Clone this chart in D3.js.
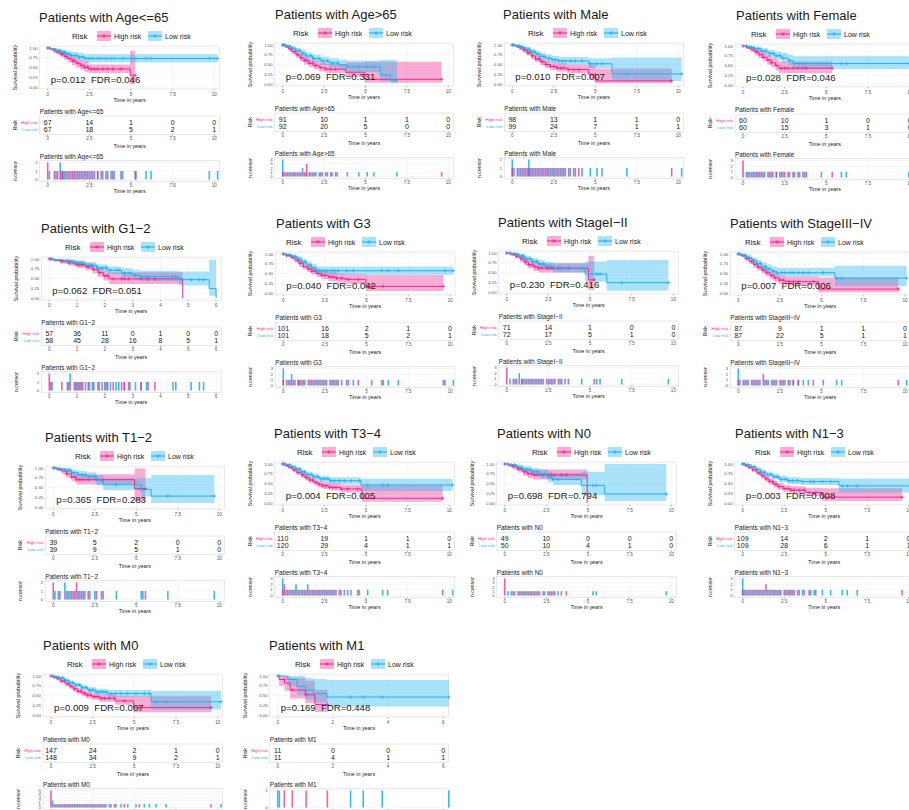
<!DOCTYPE html>
<html>
<head>
<meta charset="utf-8">
<script src="https://cdn.jsdelivr.net/npm/d3@7"></script>
<style>
  body { margin: 0; background: #fff; }
  svg { display: block; font-family: "Liberation Sans", Arial, Helvetica, sans-serif; }
</style>
</head>
<body>
<svg id="chart" width="909" height="810"></svg>
<script>
// ---- subgroup survival data (high vs low risk) ----
const groups = ["Age<=65", "Age>65", "Male", "Female", "G1\u22122", "G3", "StageI\u2212II", "StageIII\u2212IV",
                "T1\u22122", "T3\u22124", "N0", "N1\u22123", "M0", "M1"];
const pValues   = ["0.012", "0.069", "0.010", "0.028", "0.062", "0.040", "0.230", "0.007", "0.365", "0.004", "0.698", "0.003", "0.009", "0.169"];
const fdrValues = ["0.046", "0.331", "0.007", "0.046", "0.051", "0.042", "0.416", "0.006", "0.283", "0.005", "0.794", "0.008", "0.007", "0.448"];
const timeMax  = [10, 10, 10, 10, 6, 10, 10, 10, 10, 10, 10, 10, 10, 6];
const tickStep = [2.5, 2.5, 2.5, 2.5, 1, 2.5, 2.5, 2.5, 2.5, 2.5, 2.5, 2.5, 2.5, 2];

// number at risk at each tick
const riskHigh = [[67,14,1,0,0],[91,10,1,1,0],[98,13,1,1,0],[60,10,1,0,0],[57,36,11,0,1,0,0],[101,16,2,1,0],[71,14,1,0,0],
                  [87,9,1,1,0],[39,5,2,0,0],[110,19,1,1,0],[49,10,0,0,0],[109,14,2,1,0],[147,24,2,1,0],[11,0,0,0]];
const riskLow  = [[67,18,5,2,1],[92,20,5,0,0],[99,24,7,1,1],[60,15,3,1,0],[58,45,28,16,8,5,1],[101,18,5,2,1],[72,17,5,1,0],
                  [87,22,5,1,1],[39,9,5,1,0],[120,29,4,1,1],[50,10,4,1,0],[109,28,6,1,1],[148,34,9,2,1],[11,4,1,1]];

// Kaplan-Meier steps: [time, survival, lower CI, upper CI]
const highCurves = [
  [[0,1,1,1],[0.15,0.97,0.94,1],[0.4,0.93,0.88,0.99],[0.6,0.89,0.82,0.96],[0.8,0.84,0.76,0.92],[1.0,0.78,0.69,0.88],[1.2,0.73,0.63,0.84],[1.45,0.67,0.56,0.79],[1.7,0.61,0.5,0.74],[1.95,0.56,0.44,0.7],[2.2,0.51,0.39,0.66],[2.45,0.46,0.36,0.58],[4.95,0.3,0.07,0.93]],
  [[0,1,1,1],[0.15,0.96,0.92,1],[0.35,0.9,0.84,0.96],[0.55,0.83,0.76,0.91],[0.8,0.75,0.67,0.84],[1.05,0.67,0.58,0.77],[1.3,0.6,0.5,0.7],[1.6,0.53,0.43,0.64],[1.9,0.47,0.37,0.59],[2.2,0.42,0.32,0.55],[2.6,0.38,0.28,0.51],[3.8,0.3,0.18,0.55],[4.95,0.12,0.03,0.57]],
  [[0,1,1,1],[0.2,0.97,0.94,1],[0.4,0.93,0.88,0.98],[0.65,0.87,0.81,0.93],[0.9,0.8,0.73,0.87],[1.15,0.72,0.64,0.8],[1.4,0.64,0.56,0.73],[1.7,0.57,0.48,0.66],[2.0,0.5,0.41,0.6],[2.3,0.45,0.36,0.56],[2.7,0.41,0.32,0.53],[3.3,0.37,0.27,0.5],[4.6,0.25,0.12,0.5],[5.0,0.08,0.02,0.4]],
  [[0,1,1,1],[0.2,0.96,0.92,1],[0.45,0.91,0.84,0.98],[0.7,0.85,0.76,0.94],[0.95,0.78,0.68,0.89],[1.2,0.71,0.6,0.83],[1.45,0.64,0.52,0.77],[1.7,0.57,0.45,0.71],[1.95,0.5,0.37,0.65],[2.15,0.43,0.3,0.6]],
  [[0,1,1,1],[0.15,0.97,0.93,1],[0.4,0.94,0.88,0.99],[0.7,0.9,0.83,0.97],[1.0,0.85,0.77,0.93],[1.3,0.8,0.71,0.89],[1.55,0.73,0.63,0.84],[1.75,0.65,0.54,0.77],[1.95,0.57,0.45,0.7],[2.15,0.49,0.36,0.66],[4.8,0,0,0]],
  [[0,1,1,1],[0.2,0.96,0.92,1],[0.45,0.91,0.86,0.97],[0.7,0.84,0.77,0.91],[0.95,0.76,0.68,0.84],[1.2,0.68,0.6,0.77],[1.45,0.62,0.53,0.71],[1.7,0.56,0.47,0.66],[2.0,0.5,0.41,0.61],[2.3,0.45,0.35,0.56],[2.7,0.41,0.31,0.53],[3.2,0.38,0.27,0.5],[3.7,0.35,0.24,0.48],[4.95,0.17,0.05,0.46]],
  [[0,1,1,1],[0.2,0.97,0.93,1],[0.5,0.92,0.86,0.98],[0.8,0.85,0.77,0.93],[1.05,0.77,0.68,0.87],[1.3,0.7,0.6,0.81],[1.6,0.65,0.54,0.77],[1.9,0.61,0.5,0.74],[4.9,0.31,0.05,0.93]],
  [[0,1,1,1],[0.15,0.96,0.92,1],[0.4,0.89,0.83,0.95],[0.65,0.81,0.74,0.89],[0.9,0.73,0.65,0.82],[1.15,0.66,0.57,0.75],[1.4,0.59,0.5,0.69],[1.65,0.52,0.42,0.62],[1.9,0.45,0.35,0.56],[2.15,0.39,0.29,0.5],[2.45,0.33,0.23,0.45],[2.8,0.29,0.19,0.42],[4.8,0.1,0.02,0.4]],
  [[0,1,1,1],[0.2,0.97,0.92,1],[0.5,0.92,0.84,0.99],[0.8,0.85,0.75,0.95],[1.1,0.77,0.66,0.9],[1.4,0.7,0.58,0.84],[4.9,0.47,0.15,0.99]],
  [[0,1,1,1],[0.15,0.96,0.93,0.99],[0.35,0.91,0.87,0.95],[0.6,0.85,0.8,0.9],[0.85,0.78,0.72,0.84],[1.1,0.72,0.65,0.79],[1.35,0.65,0.58,0.72],[1.6,0.59,0.51,0.67],[1.85,0.53,0.45,0.61],[2.1,0.48,0.4,0.57],[2.4,0.44,0.36,0.53],[2.8,0.4,0.32,0.5],[3.5,0.36,0.27,0.47],[4.75,0.12,0.03,0.45]],
  [[0,1,1,1],[0.2,0.97,0.93,1],[0.5,0.93,0.86,0.99],[0.8,0.87,0.78,0.95],[1.1,0.8,0.7,0.9],[1.4,0.75,0.64,0.87],[1.7,0.72,0.6,0.86],[4.95,0,0,0]],
  [[0,1,1,1],[0.15,0.96,0.93,0.99],[0.35,0.91,0.87,0.95],[0.6,0.85,0.8,0.9],[0.85,0.77,0.71,0.83],[1.1,0.7,0.63,0.77],[1.35,0.62,0.55,0.7],[1.6,0.55,0.47,0.63],[1.85,0.48,0.4,0.57],[2.1,0.42,0.34,0.51],[2.45,0.37,0.29,0.46],[2.9,0.33,0.25,0.43],[3.8,0.27,0.18,0.39],[4.8,0.15,0.05,0.38]],
  [[0,1,1,1],[0.15,0.97,0.95,0.99],[0.35,0.93,0.89,0.96],[0.6,0.87,0.82,0.92],[0.85,0.8,0.74,0.86],[1.1,0.74,0.67,0.81],[1.35,0.67,0.6,0.74],[1.6,0.61,0.54,0.69],[1.85,0.56,0.48,0.64],[2.1,0.51,0.43,0.6],[2.45,0.47,0.39,0.56],[2.9,0.43,0.34,0.53],[3.85,0.36,0.26,0.49],[4.95,0.19,0.07,0.48]],
  [[0,1,1,1],[0.05,0.91,0.75,1],[0.25,0.82,0.62,1],[0.45,0.64,0.42,0.95],[1.0,0.52,0.3,0.88],[1.35,0.27,0.08,0.65]]
];
const lowCurves = [
  [[0,1,1,1],[0.2,0.97,0.94,1],[0.5,0.93,0.88,0.98],[0.8,0.89,0.83,0.96],[1.1,0.85,0.78,0.93],[1.4,0.81,0.73,0.9],[1.8,0.77,0.68,0.87],[2.2,0.73,0.63,0.84]],
  [[0,1,1,1],[0.2,0.97,0.94,1],[0.5,0.92,0.87,0.97],[0.8,0.86,0.8,0.93],[1.1,0.79,0.71,0.87],[1.4,0.72,0.64,0.81],[1.8,0.65,0.56,0.75],[2.3,0.59,0.49,0.7],[2.8,0.54,0.43,0.66],[3.4,0.49,0.37,0.63],[3.9,0.44,0.31,0.6],[5.9,0.23,0.07,0.62],[6.5,0.1,0.02,0.62]],
  [[0,1,1,1],[0.2,0.98,0.96,1],[0.5,0.94,0.9,0.98],[0.8,0.89,0.84,0.95],[1.1,0.83,0.77,0.9],[1.4,0.77,0.7,0.85],[1.7,0.71,0.63,0.8],[2.0,0.66,0.57,0.75],[2.4,0.62,0.53,0.72],[2.8,0.59,0.5,0.69],[4.6,0.52,0.41,0.66],[6.0,0.26,0.08,0.68]],
  [[0,1,1,1],[0.3,0.97,0.93,1],[0.7,0.93,0.87,0.99],[1.1,0.87,0.79,0.95],[1.5,0.81,0.72,0.9],[1.9,0.75,0.65,0.86],[2.3,0.69,0.58,0.82],[2.7,0.63,0.51,0.77],[3.0,0.55,0.41,0.74]],
  [[0,1,1,1],[0.2,0.98,0.95,1],[0.5,0.95,0.9,0.99],[0.9,0.9,0.84,0.96],[1.3,0.84,0.77,0.92],[1.7,0.77,0.68,0.86],[2.1,0.71,0.61,0.81],[2.6,0.64,0.53,0.76],[3.0,0.58,0.46,0.72],[3.3,0.55,0.43,0.7],[4.65,0.47,0.32,0.68],[5.75,0.24,0.06,0.98],[6.0,0,0,0]],
  [[0,1,1,1],[0.2,0.98,0.95,1],[0.5,0.94,0.89,0.98],[0.8,0.88,0.82,0.94],[1.1,0.8,0.73,0.88],[1.4,0.72,0.64,0.81],[1.7,0.64,0.55,0.74],[2.0,0.57,0.47,0.68]],
  [[0,1,1,1],[0.3,0.98,0.95,1],[0.7,0.92,0.86,0.98],[1.1,0.85,0.78,0.93],[1.5,0.78,0.7,0.87],[1.9,0.72,0.63,0.82],[2.3,0.66,0.56,0.77],[2.8,0.61,0.5,0.74],[4.7,0.46,0.27,0.78],[6.0,0.24,0.03,0.82]],
  [[0,1,1,1],[0.2,0.97,0.94,1],[0.5,0.91,0.85,0.97],[0.8,0.84,0.77,0.91],[1.1,0.76,0.68,0.85],[1.4,0.68,0.59,0.78],[1.7,0.62,0.52,0.73],[2.0,0.56,0.46,0.68],[2.3,0.52,0.42,0.65],[5.8,0.38,0.18,0.7]],
  [[0,1,1,1],[0.3,0.98,0.95,1],[0.7,0.94,0.88,1],[1.1,0.88,0.8,0.96],[1.5,0.83,0.74,0.93],[2.0,0.78,0.67,0.89],[2.6,0.68,0.55,0.82],[3.0,0.57,0.43,0.74],[5.3,0.45,0.27,0.74],[5.9,0.28,0.1,0.82]],
  [[0,1,1,1],[0.2,0.98,0.96,1],[0.5,0.93,0.89,0.97],[0.8,0.87,0.82,0.92],[1.1,0.8,0.74,0.86],[1.4,0.73,0.66,0.8],[1.8,0.67,0.6,0.75],[2.2,0.62,0.54,0.7],[2.8,0.57,0.49,0.66],[4.7,0.46,0.31,0.62]],
  [[0,1,1,1],[0.3,0.98,0.95,1],[0.7,0.92,0.86,0.98],[1.1,0.86,0.78,0.94],[1.6,0.8,0.7,0.9],[2.1,0.74,0.63,0.86],[2.6,0.66,0.53,0.8],[2.9,0.6,0.46,0.76],[4.6,0.45,0.2,0.8],[6.0,0.23,0.05,1.0]],
  [[0,1,1,1],[0.2,0.98,0.96,1],[0.5,0.93,0.89,0.97],[0.8,0.86,0.81,0.91],[1.1,0.79,0.73,0.86],[1.4,0.73,0.66,0.8],[1.8,0.67,0.6,0.75],[2.2,0.61,0.53,0.7],[2.7,0.57,0.49,0.66],[3.5,0.55,0.46,0.64],[5.8,0.44,0.27,0.63]],
  [[0,1,1,1],[0.2,0.98,0.96,1],[0.5,0.95,0.92,0.98],[0.8,0.89,0.85,0.93],[1.1,0.83,0.78,0.88],[1.4,0.77,0.71,0.83],[1.8,0.7,0.64,0.77],[2.2,0.64,0.57,0.71],[2.7,0.59,0.52,0.67],[3.4,0.55,0.47,0.64],[6.0,0.34,0.14,0.62]],
  [[0,1,1,1],[0.35,0.91,0.75,1],[0.7,0.73,0.52,1],[1.0,0.64,0.4,0.95],[1.3,0.55,0.32,0.92],[1.78,0.46,0.22,0.9]]
];

// censoring times (years)
const highCensor = [
  [0,0,0.4,0.6,0.8,0.9,1.1,1.3,1.5,1.6,1.8,2.0,2.2,2.4,2.6,2.8,3.0,3.3,3.6,3.9,4.4,5.25],
  [0,0.1,0.3,0.5,0.7,0.9,1.1,1.3,1.45,1.45,1.45,1.6,1.8,2.0,2.3,2.6,2.9,3.2,9.6],
  [0,0.3,0.5,0.7,0.9,1.0,1.2,1.4,1.6,1.8,2.0,2.1,2.3,2.5,2.7,2.9,3.1,3.4,3.7,4.0,9.6],
  [0,0,0,0.3,0.6,0.8,1.0,1.2,1.5,1.7,2.0,2.3,2.5,2.7,3.0,3.3,3.6,3.8,5.35],
  [0,0,0.05,0.45,0.7,0.9,1.0,1.1,1.2,1.4,1.6,1.8,2.0,2.1,2.3,2.6,2.7,2.85,3.3,3.55,3.8],
  [0,0.2,0.4,0.6,0.9,1.0,1.2,1.5,1.7,1.9,2.1,2.3,2.5,2.8,3.0,3.2,3.5,3.9,4.5,5.3,6.0,9.6],
  [0,0,0,0.4,0.6,0.9,1.1,1.3,1.5,1.7,1.9,2.1,2.4,2.6,2.8,3.1,3.3,3.7,5.25],
  [0,0.3,0.5,0.8,1.0,1.2,1.5,1.5,1.7,2.0,2.2,2.5,2.7,3.0,3.3,3.6,4.5,9.6],
  [0,0,0.4,0.8,1.1,1.3,1.4,1.4,1.6,1.8,2.1,2.6,3.0,5.55],
  [0,0.1,0.1,0.3,0.5,0.7,0.9,1.2,1.4,1.6,1.8,2.0,2.2,2.4,2.6,2.8,3.0,3.2,3.5,3.9,4.5,9.6],
  [0,0,0,0,0.5,0.8,1.0,1.2,1.4,1.6,1.8,2.0,2.3,2.6,2.8,3.0,3.4,3.7],
  [0,0.2,0.4,0.6,0.8,1.0,1.2,1.4,1.4,1.6,1.8,2.0,2.2,2.5,2.7,2.9,3.1,3.4,3.7,4.0,4.4,9.6],
  [0,0,0,0,0,0.2,0.4,0.6,0.8,1.0,1.2,1.4,1.6,1.8,2.0,2.2,2.4,2.6,2.8,3.0,3.2,3.5,3.8,4.4,5.3,9.6],
  [0.24,0.53,1.03,1.8]
];
const lowCensor = [
  [0.1,0.5,0.75,0.75,0.9,1.0,1.2,1.4,1.7,1.9,2.1,2.3,2.5,2.7,3.0,3.2,3.5,3.8,4.0,4.5,5.3,5.9,6.2,9.7,10.2],
  [0,0,0,0,0.2,0.4,0.6,0.8,1.0,1.2,1.2,1.4,1.7,1.9,2.2,2.4,2.7,3.0,3.3,3.9,4.6,5.1,5.5,6.9],
  [0,0,0.1,0.4,0.6,0.8,1.0,1.0,1.1,1.3,1.5,1.7,1.9,2.2,2.4,2.6,2.8,3.0,3.2,3.5,3.8,4.2,4.7,5.1,5.4,6.9,10.2],
  [0.2,0.4,0.5,0.7,0.9,1.1,1.3,1.6,1.8,2.0,2.2,2.4,2.8,3.1,3.4,3.7,4.7,5.9,6.2,9.95],
  [0.1,0.65,0.75,0.75,0.95,1.05,1.15,1.3,1.45,1.55,1.75,1.9,2.05,2.2,2.4,2.5,2.7,2.9,3.1,3.3,3.5,4.45,4.55,5.1,5.4,5.55],
  [0,0,0,0.3,0.5,0.5,0.7,0.9,1.1,1.3,1.6,1.8,2.0,2.2,2.4,2.6,2.9,3.1,3.3,3.8,4.2,5.9,6.3,6.9,9.7,10.2],
  [0.2,0.5,0.75,0.75,0.9,1.0,1.2,1.4,1.6,1.8,2.0,2.2,2.5,2.7,2.9,3.2,3.5,4.5,5.4,5.6,6.9,9.7],
  [0,0,0,0.1,0.4,0.6,0.9,1.1,1.3,1.6,1.8,2.1,2.3,2.6,2.8,3.1,3.3,3.6,3.9,4.2,5.1,5.9,6.2,10.1],
  [0.1,0.3,0.7,0.7,0.9,1.0,1.2,1.5,1.7,1.9,2.2,2.5,2.9,3.8,5.3,5.4,6.9,9.7],
  [0,0,0,0.2,0.4,0.6,0.8,0.8,1.0,1.1,1.3,1.5,1.5,1.7,1.9,2.1,2.3,2.5,2.7,2.9,3.1,3.4,3.7,4.1,4.6,5.1,6.0,6.3,10.2],
  [0.2,0.4,0.6,0.9,1.1,1.3,1.5,1.7,1.9,2.1,2.4,2.7,2.9,3.2,5.3,5.5,9.7],
  [0,0,0,0.1,0.3,0.5,0.7,0.9,1.1,1.3,1.5,1.7,1.9,2.1,2.3,2.6,2.8,3.0,3.3,3.6,4.1,4.3,4.8,5.3,6.0,6.3,6.9,10.2],
  [0.1,0.1,0.3,0.5,0.7,0.9,1.1,1.3,1.5,1.7,1.9,2.1,2.3,2.5,2.7,2.9,3.1,3.3,3.6,3.9,4.2,4.6,5.1,5.6,5.9,6.3,6.9,10.2],
  [0,0.06,2.64,3.1,3.79,6.2]
];

// ---- page layout of the 14 tiles (title x, title baseline, x of time 0, px per year, legend centre) ----
const tiles = [
  {tx: 39,  ty: 22,  x0: 47.7,  k: 16.66, lcx: 132},
  {tx: 275, ty: 19,  x0: 282.7, k: 16.56, lcx: 353},
  {tx: 503, ty: 19,  x0: 512.3, k: 16.6,  lcx: 588},
  {tx: 736, ty: 20,  x0: 743,   k: 16.67, lcx: 811},
  {tx: 41,  ty: 233, x0: 49.3,  k: 27.8,  lcx: 125},
  {tx: 276, ty: 228, x0: 283.3, k: 16.67, lcx: 346},
  {tx: 498, ty: 227, x0: 506.7, k: 16.67, lcx: 582},
  {tx: 730, ty: 228, x0: 738.3, k: 16.67, lcx: 805},
  {tx: 45,  ty: 442, x0: 53.3,  k: 16.6,  lcx: 135},
  {tx: 274, ty: 438, x0: 282.7, k: 16.66, lcx: 357},
  {tx: 497, ty: 438, x0: 504.7, k: 16.66, lcx: 592},
  {tx: 735, ty: 438, x0: 742.7, k: 16.6,  lcx: 815},
  {tx: 43,  ty: 650, x0: 51,    k: 16.67, lcx: 127},
  {tx: 269, ty: 650, x0: 277.7, k: 27.6,  lcx: 355}
];

const HIGH = "#f3278f", LOW = "#1fb3ee";
const INK = "#1a1a1a", TICK = "#555", GRID = "#ececec", FRAME = "#d2d2d2";
const BAND_OPACITY = 0.38;

const svg = d3.select("#chart");

function plus(g, cx, cy, r, color) {
  g.append("path")
    .attr("d", `M${cx - r},${cy}H${cx + r}M${cx},${cy - r}V${cy + r}`)
    .attr("stroke", color).attr("stroke-width", 0.8).attr("fill", "none");
}

function label(g, x, y, txt, size, color, anchor) {
  return g.append("text").attr("x", x).attr("y", y)
    .attr("font-size", size).attr("fill", color)
    .attr("text-anchor", anchor || "start")
    .attr("dominant-baseline", "central")
    .text(txt);
}

function vlabel(g, x, y, txt, size) {
  g.append("text")
    .attr("transform", `translate(${x},${y}) rotate(-90)`)
    .attr("font-size", size).attr("fill", INK)
    .attr("text-anchor", "middle").attr("dominant-baseline", "central")
    .text(txt);
}

function xTicks(g, x, ticks, yTop, yLab, fmt) {
  ticks.forEach(t => {
    g.append("line").attr("x1", x(t)).attr("x2", x(t)).attr("y1", yTop).attr("y2", yTop + 1.5)
      .attr("stroke", "#444").attr("stroke-width", 0.4);
    label(g, x(t), yLab, fmt(t), 4.6, TICK, "middle");
  });
}

const fmtX = d3.format("~g");
const fmtY = d3.format(".2f");

tiles.forEach((L, i) => {
  const g = svg.append("g");
  const xmax = timeMax[i];
  const x = d3.scaleLinear().domain([0, xmax]).range([L.x0, L.x0 + L.k * xmax]);
  const ticks = d3.range(0, xmax + 1e-9, tickStep[i]);
  const pl = L.x0 - 8, pr = x(xmax) + 5;
  const ty = L.ty;
  const y = d3.scaleLinear().domain([0, 1]).range([ty + 65, ty + 26]);
  const yAxisX = L.x0 - 33;

  // title
  g.append("text").attr("x", L.tx).attr("y", ty)
    .attr("font-size", 13).attr("fill", INK).text("Patients with " + groups[i]);

  // legend
  const lx = L.lcx - 60, ly = ty + 14;
  label(g, lx, ly, "Risk", 8, INK);
  [[HIGH, "High risk", 25], [LOW, "Low risk", 76]].forEach(([c, name, off]) => {
    g.append("rect").attr("x", lx + off).attr("y", ly - 5).attr("width", 14).attr("height", 10)
      .attr("fill", c).attr("fill-opacity", BAND_OPACITY);
    g.append("line").attr("x1", lx + off).attr("x2", lx + off + 14).attr("y1", ly).attr("y2", ly)
      .attr("stroke", c).attr("stroke-width", 1.1);
    plus(g, lx + off + 7, ly, 2, c);
    label(g, lx + off + 17, ly, name, 7, INK);
  });

  // ---- survival panel ----
  const top = y(1.05), bot = y(-0.05);
  g.append("rect").attr("x", pl).attr("y", top).attr("width", pr - pl).attr("height", bot - top)
    .attr("fill", "#fff").attr("stroke", FRAME).attr("stroke-width", 0.5);
  const yTicks = [0, 0.25, 0.5, 0.75, 1];
  yTicks.forEach(v => {
    g.append("line").attr("x1", pl).attr("x2", pr).attr("y1", y(v)).attr("y2", y(v))
      .attr("stroke", GRID).attr("stroke-width", 0.5);
    label(g, pl - 2, y(v), fmtY(v), 4.4, TICK, "end");
  });
  ticks.forEach(t => {
    g.append("line").attr("x1", x(t)).attr("x2", x(t)).attr("y1", top).attr("y2", bot)
      .attr("stroke", GRID).attr("stroke-width", 0.5);
  });

  const groupsData = [
    {steps: highCurves[i], cens: highCensor[i], color: HIGH},
    {steps: lowCurves[i], cens: lowCensor[i], color: LOW}
  ];
  groupsData.forEach(d => {
    const last = d.steps[d.steps.length - 1];
    d.end = Math.max(last[0], d3.max(d.cens));
    d.pts = d.steps.concat([[d.end, last[1], last[2], last[3]]]);
  });

  const area = d3.area().curve(d3.curveStepAfter)
    .x(p => x(p[0])).y0(p => y(p[2])).y1(p => y(p[3]));
  const line = d3.line().curve(d3.curveStepAfter)
    .x(p => x(p[0])).y(p => y(p[1]));

  groupsData.forEach(d => {
    g.append("path").attr("d", area(d.pts)).attr("fill", d.color).attr("fill-opacity", BAND_OPACITY);
  });
  groupsData.forEach(d => {
    g.append("path").attr("d", line(d.pts)).attr("fill", "none")
      .attr("stroke", d.color).attr("stroke-width", 1);
    const times = d.steps.map(s => s[0]);
    Array.from(new Set(d.cens)).forEach(t => {
      const idx = Math.max(0, d3.bisectRight(times, t) - 1);
      plus(g, x(t), y(d.steps[idx][1]), 1.8, d.color);
    });
  });

  xTicks(g, x, ticks, bot, ty + 72.5, fmtX);
  label(g, (pl + pr) / 2, ty + 78, "Time in years", 5.4, INK, "middle");
  vlabel(g, yAxisX, (top + bot) / 2, "Survival probability", 5.4);

  g.append("text").attr("x", L.x0 + 3).attr("y", y(0) - 4.5)
    .attr("font-size", 9.6).attr("fill", INK).attr("xml:space", "preserve")
    .style("white-space", "pre")
    .text("p=" + pValues[i] + "  FDR=" + fdrValues[i]);

  // ---- number-at-risk table ----
  label(g, pl, ty + 89.5, "Patients with " + groups[i], 6.4, INK);
  const tTop = ty + 94, tBot = ty + 112.5;
  g.append("rect").attr("x", pl).attr("y", tTop).attr("width", pr - pl).attr("height", tBot - tTop)
    .attr("fill", "#fff").attr("stroke", FRAME).attr("stroke-width", 0.5);
  ticks.forEach(t => {
    g.append("line").attr("x1", x(t)).attr("x2", x(t)).attr("y1", tTop).attr("y2", tBot)
      .attr("stroke", GRID).attr("stroke-width", 0.5);
  });
  [[riskHigh[i], ty + 100, HIGH, "High risk"], [riskLow[i], ty + 107, LOW, "Low risk"]].forEach(([row, ry, c, name]) => {
    row.forEach((n, j) => label(g, x(ticks[j]), ry, String(n), 7, INK, "middle"));
    label(g, pl - 2, ry, name, 4.3, c, "end");
  });
  xTicks(g, x, ticks, tBot, ty + 116.5, fmtX);
  label(g, (pl + pr) / 2, ty + 124, "Time in years", 5.4, INK, "middle");
  vlabel(g, yAxisX, (tTop + tBot) / 2, "Risk", 5.4);

  // ---- censoring counts ----
  label(g, pl, ty + 134, "Patients with " + groups[i], 6.4, INK);
  const counts = groupsData.map(d => d3.rollups(d.cens, v => v.length, t => t));
  const cmax = d3.max(counts.flat(), c => c[1]);
  const cTop = ty + 138.5, cBot = ty + 159.5;
  const yc = d3.scaleLinear().domain([0, cmax]).range([cBot - 2, cTop + 2]);
  g.append("rect").attr("x", pl).attr("y", cTop).attr("width", pr - pl).attr("height", cBot - cTop)
    .attr("fill", "#fff").attr("stroke", FRAME).attr("stroke-width", 0.5);
  d3.range(0, cmax + 1).forEach(v => {
    g.append("line").attr("x1", pl).attr("x2", pr).attr("y1", yc(v)).attr("y2", yc(v))
      .attr("stroke", GRID).attr("stroke-width", 0.5);
    label(g, pl - 2, yc(v), String(v), 4.4, TICK, "end");
  });
  ticks.forEach(t => {
    g.append("line").attr("x1", x(t)).attr("x2", x(t)).attr("y1", cTop).attr("y2", cBot)
      .attr("stroke", GRID).attr("stroke-width", 0.5);
  });
  [1, 0].forEach(k => {
    counts[k].forEach(([t, n]) => {
      g.append("rect").attr("x", x(t) - 0.8).attr("width", 1.6)
        .attr("y", yc(n)).attr("height", yc(0) - yc(n))
        .attr("fill", groupsData[k].color).attr("fill-opacity", k === 1 ? 0.9 : 0.75);
    });
  });
  xTicks(g, x, ticks, cBot, ty + 163, fmtX);
  label(g, (pl + pr) / 2, ty + 169, "Time in years", 5.4, INK, "middle");
  vlabel(g, yAxisX, (cTop + cBot) / 2, "n.censor", 5.2);
});
</script>
</body>
</html>
